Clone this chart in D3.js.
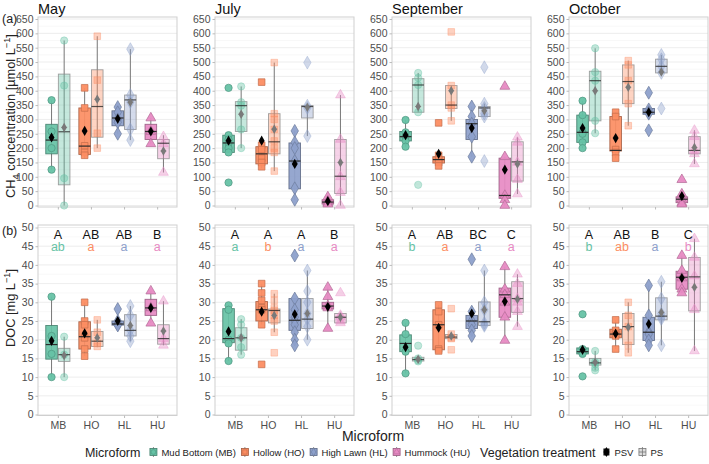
<!DOCTYPE html>
<html><head><meta charset="utf-8">
<script src="https://cdn.jsdelivr.net/npm/d3@7"></script>
<style>body{margin:0;background:#fff}svg{display:block;font-family:"Liberation Sans",Arial,sans-serif}</style>
</head><body><svg id="c" width="709" height="464"></svg>
<script>
const months = ["May","July","September","October"];
const microforms = ["MB","HO","HL","HU"];
const microformNames = ["Mud Bottom (MB)","Hollow (HO)","High Lawn (HL)","Hummock (HU)"];
const treatments = ["PSV","PS"];
const colors = ["#66C2A5","#FC8D62","#8DA0CB","#E78AC3"];
const ch4Ticks = d3.range(0, 651, 50);
const docTicks = d3.range(0, 51, 5);

// [month, microform, treatment, whiskerLow, q1, median, q3, whiskerHigh, mean]
const ch4Boxes = [
 ["May","MB","PSV",125,180,228,283,367,237],["May","MB","PS",0,72,257,458,575,272],
 ["May","HO","PSV",165,178,207,340,410,260],["May","HO","PS",200,238,345,473,590,370],
 ["May","HL","PSV",250,278,305,330,343,302],["May","HL","PS",228,265,368,385,545,360],
 ["May","HU","PSV",215,230,258,283,305,258],["May","HU","PS",115,163,217,230,245,190],
 ["July","MB","PSV",185,185,218,245,245,226],["July","MB","PS",200,258,348,362,415,318],
 ["July","HO","PSV",130,145,180,205,210,226],["July","HO","PS",120,180,222,320,498,266],
 ["July","HL","PSV",20,58,155,218,260,145],["July","HL","PS",242,305,345,348,348,342],
 ["July","HU","PSV",5,5,12,20,30,15],["July","HU","PS",0,42,102,230,385,150],
 ["September","MB","PSV",205,225,240,258,298,245],["September","MB","PS",325,325,420,442,462,345],
 ["September","HO","PSV",138,148,160,170,175,180],["September","HO","PS",295,338,350,418,418,400],
 ["September","HL","PSV",170,230,285,300,345,270],["September","HL","PS",310,310,340,345,355,330],
 ["September","HU","PSV",0,25,35,165,170,125],["September","HU","PS",40,85,152,222,238,145],
 ["October","MB","PSV",200,220,255,315,365,270],["October","MB","PS",252,295,435,468,548,400],
 ["October","HO","PSV",165,190,192,310,325,235],["October","HO","PS",278,355,432,490,505,412],
 ["October","HL","PSV",320,318,325,338,338,325],["October","HL","PS",462,462,485,510,525,465],
 ["October","HU","PSV",5,10,22,30,40,33],["October","HU","PS",145,180,192,240,262,202]
];
// [month, microform, treatment, observed values]
const ch4Points = [
 ["May","MB","PSV",[367,258,200,125]],["May","MB","PS",[575,418,95,0]],
 ["May","HO","PSV",[410,340,208,185,175]],["May","HO","PS",[590,437,252,200]],
 ["May","HL","PSV",[343,325,300,290,250]],["May","HL","PS",[545,385,360,265,228]],
 ["May","HU","PSV",[305,258,215]],["May","HU","PS",[240,215,115]],
 ["July","MB","PSV",[410,245,230,218,200,185,80]],["July","MB","PS",[415,360,348,265,200]],
 ["July","HO","PSV",[430,210,195,165,150,135]],["July","HO","PS",[498,320,300,265,225,200,185,120]],
 ["July","HL","PSV",[260,220,200,155,60,20]],["July","HL","PS",[498,348,340,242]],
 ["July","HU","PSV",[30,15,10,5]],["July","HU","PS",[385,230,100,45,0]],
 ["September","MB","PSV",[298,255,240,225,205]],["September","MB","PS",[462,445,420,325,72]],
 ["September","HO","PSV",[288,175,160,150,138]],["September","HO","PS",[605,418,350,340,295]],
 ["September","HL","PSV",[345,310,285,240,170]],["September","HL","PS",[482,355,340,320,310,155]],
 ["September","HU","PSV",[415,170,35,20,0]],["September","HU","PS",[238,220,150,90,40]],
 ["October","MB","PSV",[365,315,255,250,220,200]],["October","MB","PS",[548,465,435,295,252]],
 ["October","HO","PSV",[325,310,195,185,165]],["October","HO","PS",[505,490,435,355,278]],
 ["October","HL","PSV",[393,335,325,320,262]],["October","HL","PS",[525,510,485,462,338]],
 ["October","HU","PSV",[90,40,20,10,5]],["October","HU","PS",[262,240,192,180,145]]
];
const docBoxes = [
 ["May","MB","PSV",10,14.8,18.7,23.8,31.5,19.7],["May","MB","PS",10,14.2,16,17.7,20.8,15.8],
 ["May","HO","PSV",15.6,17.5,20.8,24.8,30,21.7],["May","HO","PS",18,18.2,19.6,22.2,25.3,20.5],
 ["May","HL","PSV",23.8,23.9,24.2,25,25.2,25],["May","HL","PS",19.6,21,22.5,26.7,29,23.8],
 ["May","HU","PSV",24.4,26.5,28.5,30.8,33,28.5],["May","HU","PS",18.5,18.8,20.3,24,30.3,22.3],
 ["July","MB","PSV",14.3,19.2,20.3,28.3,29.2,22.2],["July","MB","PS",16,17.2,20.5,23.2,25.5,20.5],
 ["July","HO","PSV",24,25,28,30.2,35,27.5],["July","HO","PS",22,24.5,27.8,28.2,32.3,26.5],
 ["July","HL","PSV",18.5,22.5,25.2,31,31,26.8],["July","HL","PS",20,23,25.5,31,38.5,27],
 ["July","HU","PSV",23,28.2,29,30,34,28.8],["July","HU","PS",24.5,24.5,26,27,27,26],
 ["September","MB","PSV",11,16.8,19,21.3,24.5,18],["September","MB","PS",14.2,14.3,14.7,15.3,15.3,14.8],
 ["September","HO","PSV",17,17.3,24,28,29.3,23.2],["September","HO","PS",20.3,20.3,20.7,21.4,21.5,21],
 ["September","HL","PSV",21,23,25,26.5,27.5,27],["September","HL","PS",23.7,23.8,24.8,30.1,38.5,28],
 ["September","HU","PSV",19.8,26,32,33.8,39.5,30.2],["September","HU","PS",23.5,27.3,31,35.5,37.5,30.8],
 ["October","MB","PSV",16,16.2,16.8,17.8,17.8,17.3],["October","MB","PS",11.8,13.2,13.8,15,17,14],
 ["October","HO","PSV",17.5,20.5,21.5,22.8,25.3,21.6],["October","HO","PS",16.5,18.7,23.5,27,30,23.3],
 ["October","HL","PSV",18.5,19.8,22,26,34.5,24.2],["October","HL","PS",18.5,25.3,26.3,31.2,35.5,27.3],
 ["October","HU","PSV",32.5,33.5,36.7,38.3,42.5,36.5],["October","HU","PS",17,27.7,36.8,42,47,34]
];
const docPoints = [
 ["May","MB","PSV",[31.5,21,16.2,10]],["May","MB","PS",[20.8,16,10]],
 ["May","HO","PSV",[30,25,24,20.5,17.5,15.6]],["May","HO","PS",[25.3,22,19,18.2]],
 ["May","HL","PSV",[28.2,25,24.2,24,23.8]],["May","HL","PS",[29,26.5,22.5,21,19.6]],
 ["May","HU","PSV",[33,28.5,24.4]],["May","HU","PS",[30.3,20.3,18.5]],
 ["July","MB","PSV",[29.2,28,20,19,14.3]],["July","MB","PS",[25.5,24,20.5,18,16]],
 ["July","HO","PSV",[35,32.5,30.5,28.5,28,24,13.4]],["July","HO","PS",[32.3,30.5,28.5,27.8,26.5,25,22,16.5]],
 ["July","HL","PSV",[42.5,31,28,26,25,24,22,20,18.5]],["July","HL","PS",[38.5,33,30,27,25.5,23.5,20]],
 ["July","HU","PSV",[34,31.5,29,28.5,23]],["July","HU","PS",[32.5,26.5,26,25,24.5]],
 ["September","MB","PSV",[24.5,21.5,16.8,11]],["September","MB","PS",[18.4,15,14.5,14.2]],
 ["September","HO","PSV",[29.3,27.5,24,17.5,17]],["September","HO","PS",[28.3,21.5,20.5,20.3,17.3]],
 ["September","HL","PSV",[41.5,27.5,25,24,22.5,21]],["September","HL","PS",[38.5,30,28,24.5,24,23.7]],
 ["September","HU","PSV",[39.5,33.5,32,30,26,19.8]],["September","HU","PS",[37.5,35,31,30,27.5,23.5]],
 ["October","MB","PSV",[26.8,17.5,16.5,16.2,10.2]],["October","MB","PS",[17,14,13.5,12.5,11.8]],
 ["October","HO","PSV",[25.3,22.5,21.5,21,17.5]],["October","HO","PS",[30,26.5,23.5,18.5,16.5]],
 ["October","HL","PSV",[34.5,26.5,22,21.5,19.8,18.5]],["October","HL","PS",[35.5,31,27,26,25.5,18.5]],
 ["October","HU","PSV",[42.5,38.5,36.5,33.5,32.5]],["October","HU","PS",[47,42,37,28,17]]
];
const docLettersUpper = [["A","AB","AB","B"],["A","A","A","B"],["A","AB","BC","C"],["A","AB","B","C"]];
const docLettersLower = [["ab","a","a","a"],["a","b","a","a"],["b","a","a","a"],["b","ab","a","b"]];

const FONT = "Liberation Sans, Arial, sans-serif";
const svg = d3.select("#c");
const panelW = 139, panelStep = 177, panelX0 = 38;
const rows = [
 {boxes: ch4Boxes, points: ch4Points, ticks: ch4Ticks, minorStep: 25, domain:[0,650], range:[205.5,19], top:17, bottom:207},
 {boxes: docBoxes, points: docPoints, ticks: docTicks, minorStep: 2.5, domain:[0,50], range:[414.5,227.5], top:225, bottom:415.5}
];
const shapeOf = {MB: d3.symbolCircle, HO: d3.symbolSquare, HL: d3.symbolDiamond, HU: d3.symbolTriangle};
const sizeOf = {MB: 42, HO: 44, HL: 48, HU: 42};
const colorOf = mf => colors[microforms.indexOf(mf)];
const dodge = d3.scaleBand().domain(treatments).range([-12.6, 12.6]);
const boxW = dodge.bandwidth() * 0.92;

rows.forEach((row, ri) => {
  const y = d3.scaleLinear().domain(row.domain).range(row.range);
  months.forEach((m, mi) => {
    const left = panelX0 + mi * panelStep;
    const x = d3.scalePoint().domain(microforms).range([left, left + panelW]).padding(0.6);
    const g = svg.append("g");
    const minor = d3.range(row.domain[0] + row.minorStep, row.domain[1], row.minorStep * 2);
    g.selectAll(".mn").data(minor).join("line")
      .attr("x1", left).attr("x2", left + panelW).attr("y1", d => y(d)).attr("y2", d => y(d))
      .attr("stroke", "#f3f3f3").attr("stroke-width", 0.6);
    g.selectAll(".mj").data(row.ticks).join("line")
      .attr("x1", left).attr("x2", left + panelW).attr("y1", d => y(d)).attr("y2", d => y(d))
      .attr("stroke", "#e8e8e8").attr("stroke-width", 0.8);
    g.append("rect").attr("x", left).attr("y", row.top).attr("width", panelW).attr("height", row.bottom - row.top)
      .attr("fill", "none").attr("stroke", "#cfcfcf").attr("stroke-width", 1);
    const ax = g.append("g").attr("transform", `translate(${left},0)`)
      .call(d3.axisLeft(y).tickValues(row.ticks).tickSize(2.5).tickPadding(2).tickFormat(d3.format("d")));
    ax.select(".domain").remove();
    ax.selectAll("line").attr("stroke", "#bbb");
    ax.selectAll("text").attr("fill", "#4d4d4d").attr("font-size", 10.5).attr("font-family", FONT);
    const xa = g.append("g").attr("transform", `translate(0,${row.bottom})`)
      .call(d3.axisBottom(x).tickSize(2.5).tickPadding(4));
    xa.select(".domain").remove();
    xa.selectAll("line").attr("stroke", "#bbb");
    xa.selectAll("text").attr("fill", "#4d4d4d").attr("font-size", 10.5).attr("font-family", FONT)
      .style("display", ri === 1 ? null : "none");

    row.boxes.filter(b => b[0] === m).forEach(b => {
      const [, mf, tr, lo, q1, med, q3, hi, mean] = b;
      const cx = x(mf) + dodge(tr) + dodge.bandwidth() / 2;
      const col = colorOf(mf);
      const isPSV = tr === "PSV";
      g.append("line").attr("x1", cx).attr("x2", cx).attr("y1", y(lo)).attr("y2", y(hi))
        .attr("stroke", "#777").attr("stroke-width", 1);
      const fillC = d3.color(col); fillC.opacity = isPSV ? 0.92 : 0.38;
      const strokeC = isPSV ? d3.color(col).darker(1.2) : d3.color("#8a8a8a");
      strokeC.opacity = isPSV ? 0.9 : 0.8;
      g.append("rect").attr("x", cx - boxW / 2).attr("y", y(q3)).attr("width", boxW)
        .attr("height", Math.max(1, y(q1) - y(q3)))
        .attr("fill", fillC.formatRgb()).attr("stroke", strokeC.formatRgb()).attr("stroke-width", 0.9);
      const pts = row.points.find(p => p[0] === m && p[1] === mf && p[2] === tr)[3];
      const sym = d3.symbol().type(shapeOf[mf]).size(sizeOf[mf]);
      const pf = d3.color(col); pf.opacity = isPSV ? 0.95 : 0.4;
      const ps = isPSV ? d3.color(col).darker(0.7) : d3.color(col); ps.opacity = isPSV ? 0.9 : 0.45;
      g.selectAll(null).data(pts).join("path")
        .attr("d", sym).attr("transform", d => `translate(${cx},${y(d)})`)
        .attr("fill", pf.formatRgb()).attr("stroke", ps.formatRgb()).attr("stroke-width", 0.8);
      g.append("line").attr("x1", cx - boxW / 2).attr("x2", cx + boxW / 2).attr("y1", y(med)).attr("y2", y(med))
        .attr("stroke", "#2b2b2b").attr("stroke-width", 1.2).attr("stroke-opacity", isPSV ? 1 : 0.8);
      g.append("path").attr("d", d3.symbol().type(d3.symbolDiamond).size(isPSV ? 30 : 26))
        .attr("transform", `translate(${cx},${y(mean)})`)
        .attr("fill", isPSV ? "#000" : "#7a7a7a");
      if (!isPSV) {
        g.append("path").attr("d", `M${cx - 3},${y(mean)}H${cx + 3}M${cx},${y(mean) - 3}V${y(mean) + 3}`)
          .attr("stroke", "#7a7a7a").attr("stroke-width", 0.7);
      }
    });

    if (ri === 1) {
      g.selectAll(".lu").data(docLettersUpper[mi]).join("text")
        .attr("x", (d, i) => x(microforms[i])).attr("y", 238.5).attr("text-anchor", "middle")
        .attr("font-size", 12.5).attr("fill", "#111").text(d => d);
      g.selectAll(".ll").data(docLettersLower[mi]).join("text")
        .attr("x", (d, i) => x(microforms[i])).attr("y", 251).attr("text-anchor", "middle")
        .attr("font-size", 12.5).attr("fill", (d, i) => colors[i]).text(d => d);
    } else {
      g.append("text").attr("x", left).attr("y", 13.5).attr("font-size", 14.5).attr("fill", "#111").text(m);
    }
  });
});

svg.append("text").attr("x", 2).attr("y", 23).attr("font-size", 12.5).attr("fill", "#222").text("(a)");
svg.append("text").attr("x", 2).attr("y", 235).attr("font-size", 12.5).attr("fill", "#222").text("(b)");

const t1 = svg.append("text").attr("transform", "translate(15,116) rotate(-90)").attr("text-anchor", "middle")
  .attr("font-size", 12.8).attr("fill", "#222");
t1.append("tspan").text("CH");
t1.append("tspan").attr("font-size", 9.2).attr("dy", 3.5).text("4");
t1.append("tspan").attr("dy", -3.5).text(" concentration [µmol L");
t1.append("tspan").attr("font-size", 9.2).attr("dy", -5.5).text("−1");
t1.append("tspan").attr("dy", 5.5).text("]");
const t2 = svg.append("text").attr("transform", "translate(15,308) rotate(-90)").attr("text-anchor", "middle")
  .attr("font-size", 12.8).attr("fill", "#222");
t2.append("tspan").text("DOC [mg L");
t2.append("tspan").attr("font-size", 9.2).attr("dy", -5.5).text("−1");
t2.append("tspan").attr("dy", 5.5).text("]");

svg.append("text").attr("x", 373).attr("y", 441).attr("text-anchor", "middle").attr("font-size", 14).attr("fill", "#222").text("Microform");

// legend, laid out sequentially
const lg = svg.append("g").attr("transform", "translate(0,452)");
let cur = 0;
function addText(str, size, gapAfter) {
  const t = lg.append("text").attr("x", cur).attr("y", size > 11 ? 4.5 : 3.5).attr("font-size", size).attr("fill", "#222").text(str);
  cur += t.node().getComputedTextLength() + gapAfter;
}
function addIcon(drawFn) { drawFn(cur + 4); cur += 8 + 4; }
addText("Microform", 12.5, 9);
microforms.forEach((mf, i) => {
  addIcon(kx => {
    const c = d3.color(colors[i]);
    lg.append("line").attr("x1", kx).attr("x2", kx).attr("y1", -5).attr("y2", 5).attr("stroke", "#777").attr("stroke-width", 0.8);
    lg.append("rect").attr("x", kx - 3.5).attr("y", -3.5).attr("width", 7).attr("height", 7)
      .attr("fill", colors[i]).attr("stroke", c.darker(1.2).formatRgb()).attr("stroke-width", 0.8);
    lg.append("path").attr("d", d3.symbol().type(shapeOf[mf]).size(18)).attr("transform", `translate(${kx},0)`)
      .attr("fill", colors[i]).attr("stroke", c.darker(0.7).formatRgb()).attr("stroke-width", 0.6);
  });
  addText(microformNames[i], 9.5, i === 3 ? 10 : 5);
});
addText("Vegetation treatment", 12.5, 7);
treatments.forEach((tr, i) => {
  addIcon(kx => {
    if (tr === "PSV") {
      lg.append("rect").attr("x", kx - 3).attr("y", -3.5).attr("width", 6).attr("height", 7).attr("fill", "#111");
      lg.append("path").attr("d", d3.symbol().type(d3.symbolDiamond).size(30)).attr("transform", `translate(${kx},0)`).attr("fill", "#000");
    } else {
      lg.append("rect").attr("x", kx - 3.5).attr("y", -3.5).attr("width", 7).attr("height", 7).attr("fill", "#ddd").attr("stroke", "#777").attr("stroke-width", 0.8);
      lg.append("path").attr("d", `M${kx - 3.5},0H${kx + 3.5}M${kx},-5V5`).attr("stroke", "#777").attr("stroke-width", 0.8);
    }
  });
  addText(tr, 9.5, 5);
});
const totalW = cur - 5;
lg.attr("transform", `translate(${374 - totalW / 2},452)`);
</script></body></html>
